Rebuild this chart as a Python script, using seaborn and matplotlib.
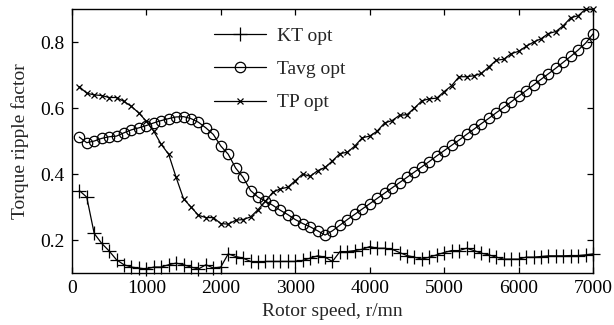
import matplotlib
matplotlib.use("Agg")
import matplotlib.pyplot as plt
import seaborn as sns

speed = [100, 200, 300, 400, 500, 600, 700, 800, 900, 1000,
         1100, 1200, 1300, 1400, 1500, 1600, 1700, 1800, 1900, 2000,
         2100, 2200, 2300, 2400, 2500, 2600, 2700, 2800, 2900, 3000,
         3100, 3200, 3300, 3400, 3500, 3600, 3700, 3800, 3900, 4000,
         4100, 4200, 4300, 4400, 4500, 4600, 4700, 4800, 4900, 5000,
         5100, 5200, 5300, 5400, 5500, 5600, 5700, 5800, 5900, 6000,
         6100, 6200, 6300, 6400, 6500, 6600, 6700, 6800, 6900, 7000]

kt_opt = [0.35, 0.33, 0.22, 0.19, 0.167, 0.14, 0.125, 0.118, 0.115, 0.112,
          0.118, 0.118, 0.125, 0.13, 0.125, 0.118, 0.112, 0.125, 0.115, 0.118,
          0.158, 0.15, 0.145, 0.135, 0.133, 0.135, 0.135, 0.135, 0.135, 0.135,
          0.138, 0.145, 0.152, 0.148, 0.135, 0.165, 0.165, 0.168, 0.172, 0.18,
          0.175, 0.175, 0.172, 0.162, 0.153, 0.148, 0.142, 0.148, 0.155, 0.162,
          0.168, 0.168, 0.175, 0.168, 0.16, 0.155, 0.148, 0.142, 0.142, 0.142,
          0.148, 0.148, 0.15, 0.152, 0.152, 0.152, 0.153, 0.153, 0.155, 0.158]

tavg_opt = [0.512, 0.495, 0.5, 0.508, 0.513, 0.515, 0.525, 0.534, 0.54, 0.547,
            0.555, 0.562, 0.568, 0.573, 0.574, 0.568, 0.557, 0.54, 0.52, 0.485,
            0.46, 0.418, 0.39, 0.35, 0.33, 0.318, 0.305, 0.29, 0.277, 0.262,
            0.25, 0.24, 0.228, 0.215, 0.228, 0.245, 0.262, 0.278, 0.294, 0.31,
            0.326, 0.342, 0.358, 0.374, 0.39, 0.406, 0.422, 0.438, 0.455, 0.471,
            0.487, 0.503, 0.52, 0.536, 0.553, 0.569, 0.586, 0.602, 0.619, 0.636,
            0.653, 0.67, 0.687, 0.704, 0.721, 0.739, 0.757, 0.776, 0.797, 0.825]

tp_opt = [0.665, 0.645, 0.64, 0.638, 0.632, 0.632, 0.62, 0.605, 0.585, 0.56,
          0.53, 0.49, 0.46, 0.39, 0.325, 0.3, 0.275, 0.268, 0.268, 0.25,
          0.248, 0.26, 0.262, 0.27, 0.292, 0.318, 0.345, 0.355, 0.36, 0.38,
          0.4, 0.393, 0.41, 0.42, 0.44, 0.462, 0.466, 0.485, 0.51, 0.515,
          0.53, 0.555, 0.562, 0.578, 0.58, 0.6, 0.622, 0.628, 0.63, 0.65,
          0.668, 0.695, 0.695, 0.698, 0.705, 0.725, 0.745, 0.748, 0.765, 0.772,
          0.787, 0.8, 0.81, 0.826, 0.832, 0.85, 0.874, 0.88, 0.9, 0.9]

x_ticks = [0, 1000, 2000, 3000, 4000, 5000, 6000, 7000]
y_ticks = [0.2, 0.4, 0.6, 0.8]

sns.set_style("ticks")
plt.rcParams["font.family"] = ["Liberation Serif", "DejaVu Serif"]

fig = plt.figure(figsize=(6.14, 3.25), dpi=100)
ax = fig.add_axes([0.117, 0.16, 0.849, 0.812])

common = dict(color="black", linewidth=0.9, ax=ax, clip_on=False)
sns.lineplot(x=speed, y=kt_opt, marker="+", markersize=10, markeredgewidth=0.9,
             markeredgecolor="black", label="KT opt", **common)
sns.lineplot(x=speed, y=tavg_opt, marker="o", markersize=7.5, markeredgewidth=0.9,
             markerfacecolor="none", markeredgecolor="black", label="Tavg opt", **common)
sns.lineplot(x=speed, y=tp_opt, marker="x", markersize=4.5, markeredgewidth=0.9,
             markeredgecolor="black", label="TP opt", **common)

ax.set_xlim(0, 7000)
ax.set_ylim(0.1, 0.9)
ax.set_xticks(x_ticks)
ax.set_yticks(y_ticks)
ax.set_xticklabels([str(t) for t in x_ticks])
ax.set_yticklabels([f"{t:.1f}" for t in y_ticks])
ax.tick_params(direction="in", top=True, right=True, length=4, width=0.9,
               labelsize=14, colors="black", pad=5)
for s in ax.spines.values():
    s.set_visible(True)
    s.set_linewidth(1.0)
    s.set_color("black")

ax.set_xlabel("Rotor speed, r/mn", fontsize=14, labelpad=4)
ax.set_ylabel("Torque ripple factor", fontsize=14, labelpad=8)

leg = ax.legend(loc="upper left", bbox_to_anchor=(0.25, 0.975), frameon=False,
                fontsize=14, handlelength=2.7, labelspacing=0.8,
                handletextpad=0.55, borderaxespad=0.2)

fig.savefig("out.png", dpi=100)
